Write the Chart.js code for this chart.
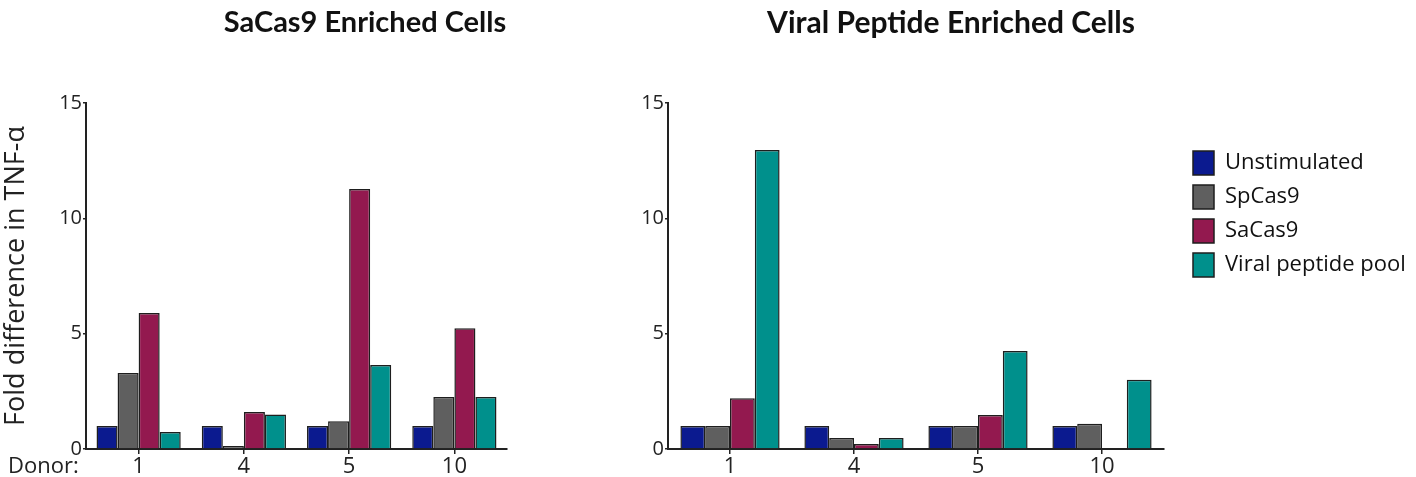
<!DOCTYPE html>
<html>
<head>
<meta charset="utf-8">
<script src="https://cdn.jsdelivr.net/npm/chart.js@4.4.1/dist/chart.umd.min.js"></script>
<style>
  html, body { margin: 0; padding: 0; background: #fff; }
  #left { position: absolute; left: 0; top: 0; width: 520px; height: 477px; }
  #right { position: absolute; left: 600px; top: 0; width: 816px; height: 477px; }
</style>
</head>
<body>
<div id="left"><canvas id="leftChart"></canvas></div>
<div id="right"><canvas id="rightChart"></canvas></div>
<script>
// donors on the x axis
const donors = ['1', '4', '5', '10'];
const seriesNames = ['Unstimulated', 'SpCas9', 'SaCas9', 'Viral peptide pool'];
const seriesColors = ['#0b1a8f', '#5f5f5f', '#93194f', '#00908c'];

// SaCas9 enriched cells
const saUnstim = [1.0, 1.0, 1.0, 1.0];
const saSpCas9 = [3.3, 0.13, 1.2, 2.25];
const saSaCas9 = [5.9, 1.6, 11.27, 5.24];
const saViral  = [0.74, 1.5, 3.64, 2.25];

// Viral peptide enriched cells
const vpUnstim = [1.0, 1.0, 1.0, 1.0];
const vpSpCas9 = [1.0, 0.48, 1.0, 1.1];
const vpSaCas9 = [2.2, 0.22, 1.47, 0];
const vpViral  = [12.96, 0.48, 4.25, 3.0];

const yTicks = [0, 5, 10, 15];

function makeDatasets(rows) {
  return rows.map((data, i) => ({
    label: seriesNames[i],
    data: data,
    backgroundColor: seriesColors[i],
    borderColor: '#1e1e1e',
    borderWidth: 1.5,
    borderSkipped: 'bottom',
    barPercentage: 1.0,
    categoryPercentage: 0.8,
  }));
}

function yScale(width, withTitle) {
  return {
    min: 0,
    max: 15,
    afterFit: (s) => { s.width = width; },
    afterBuildTicks: (s) => { s.ticks = yTicks.map(v => ({ value: v })); },
    ticks: { color: '#222', font: { family: 'Open Sans', size: 20 }, padding: 1 },
    grid: { display: true, drawOnChartArea: false, drawTicks: true, tickLength: 3, color: '#222', lineWidth: 1.5 },
    border: { display: true, color: '#222', width: 2 },
    title: {
      display: withTitle,
      text: 'Fold difference in TNF-α',
      color: '#222',
      font: { family: 'Open Sans', size: 27 },
      padding: 0,
    },
  };
}

const xScale = {
  afterFit: (s) => { s.height = 28; },
  ticks: { color: '#222', font: { family: 'Open Sans', size: 22 }, padding: 0 },
  grid: { display: true, offset: false, drawOnChartArea: false, drawTicks: true, tickLength: 5, color: '#222', lineWidth: 1.5 },
  border: { display: true, color: '#222', width: 2 },
};

// panel title, drawn at a fixed centre x
const panelTitle = {
  id: 'panelTitle',
  afterDraw(chart, args, opts) {
    const ctx = chart.ctx;
    ctx.save();
    ctx.font = 'bold ' + opts.size + 'px Lato';
    ctx.fillStyle = '#111';
    ctx.textAlign = 'center';
    ctx.textBaseline = 'middle';
    ctx.fillText(opts.text, opts.x, 23);
    ctx.restore();
  }
};

// "Donor:" label next to the x tick labels
const donorLabel = {
  id: 'donorLabel',
  afterDraw(chart) {
    const ctx = chart.ctx;
    const xs = chart.scales.x;
    ctx.save();
    ctx.font = '22px "Open Sans"';
    ctx.fillStyle = '#222';
    ctx.textAlign = 'left';
    ctx.textBaseline = 'middle';
    ctx.fillText('Donor:', 8, xs.top + 18);
    ctx.restore();
  }
};

new Chart(document.getElementById('leftChart'), {
  type: 'bar',
  data: {
    labels: donors,
    datasets: makeDatasets([saUnstim, saSpCas9, saSaCas9, saViral]),
  },
  options: {
    responsive: true,
    maintainAspectRatio: false,
    animation: false,
    layout: { padding: { left: 0, right: 13, top: 103, bottom: 0 } },
    scales: { x: xScale, y: yScale(86, true) },
    plugins: {
      legend: { display: false },
      tooltip: { enabled: false },
      title: { display: false },
      panelTitle: { text: 'SaCas9 Enriched Cells', x: 365, size: 29 },
    },
  },
  plugins: [panelTitle, donorLabel],
});

const rightChart = new Chart(document.getElementById('rightChart'), {
  type: 'bar',
  data: {
    labels: donors,
    datasets: makeDatasets([vpUnstim, vpSpCas9, vpSaCas9, vpViral]),
  },
  options: {
    responsive: true,
    maintainAspectRatio: false,
    animation: false,
    layout: { padding: { left: 0, right: 0, top: 103, bottom: 0 } },
    scales: {
      x: xScale,
      y: yScale(68, false),
      // empty axis that keeps a gap between the plot and the legend
      gap: {
        position: 'right',
        display: true,
        min: 0, max: 15,
        afterFit: (s) => { s.width = 19; },
        ticks: { display: false },
        grid: { display: false },
        border: { display: false },
      },
    },
    plugins: {
      legend: {
        display: true,
        position: 'right',
        align: 'start',
        title: { display: true, text: ' ', font: { size: 10 }, padding: { top: 0, bottom: 26 } },
        labels: {
          boxWidth: 21,
          boxHeight: 24,
          padding: 10,
          color: '#111',
          font: { family: 'Open Sans', size: 22 },
          generateLabels: (chart) => chart.data.datasets.map((ds, i) => ({
            text: ds.label,
            fillStyle: ds.backgroundColor,
            strokeStyle: '#1e1e1e',
            fontColor: '#111',
            lineWidth: 1.5,
            datasetIndex: i,
            hidden: false,
          })),
        },
      },
      tooltip: { enabled: false },
      title: { display: false },
      panelTitle: { text: 'Viral Peptide Enriched Cells', x: 351, size: 30 },
    },
  },
  plugins: [panelTitle],
});

// fixed legend width so the plot ends where the reference's does
const legendFit = rightChart.legend.fit;
rightChart.legend.fit = function () {
  legendFit.call(this);
  this.width = 233;
};
rightChart.update();
</script>
</body>
</html>
